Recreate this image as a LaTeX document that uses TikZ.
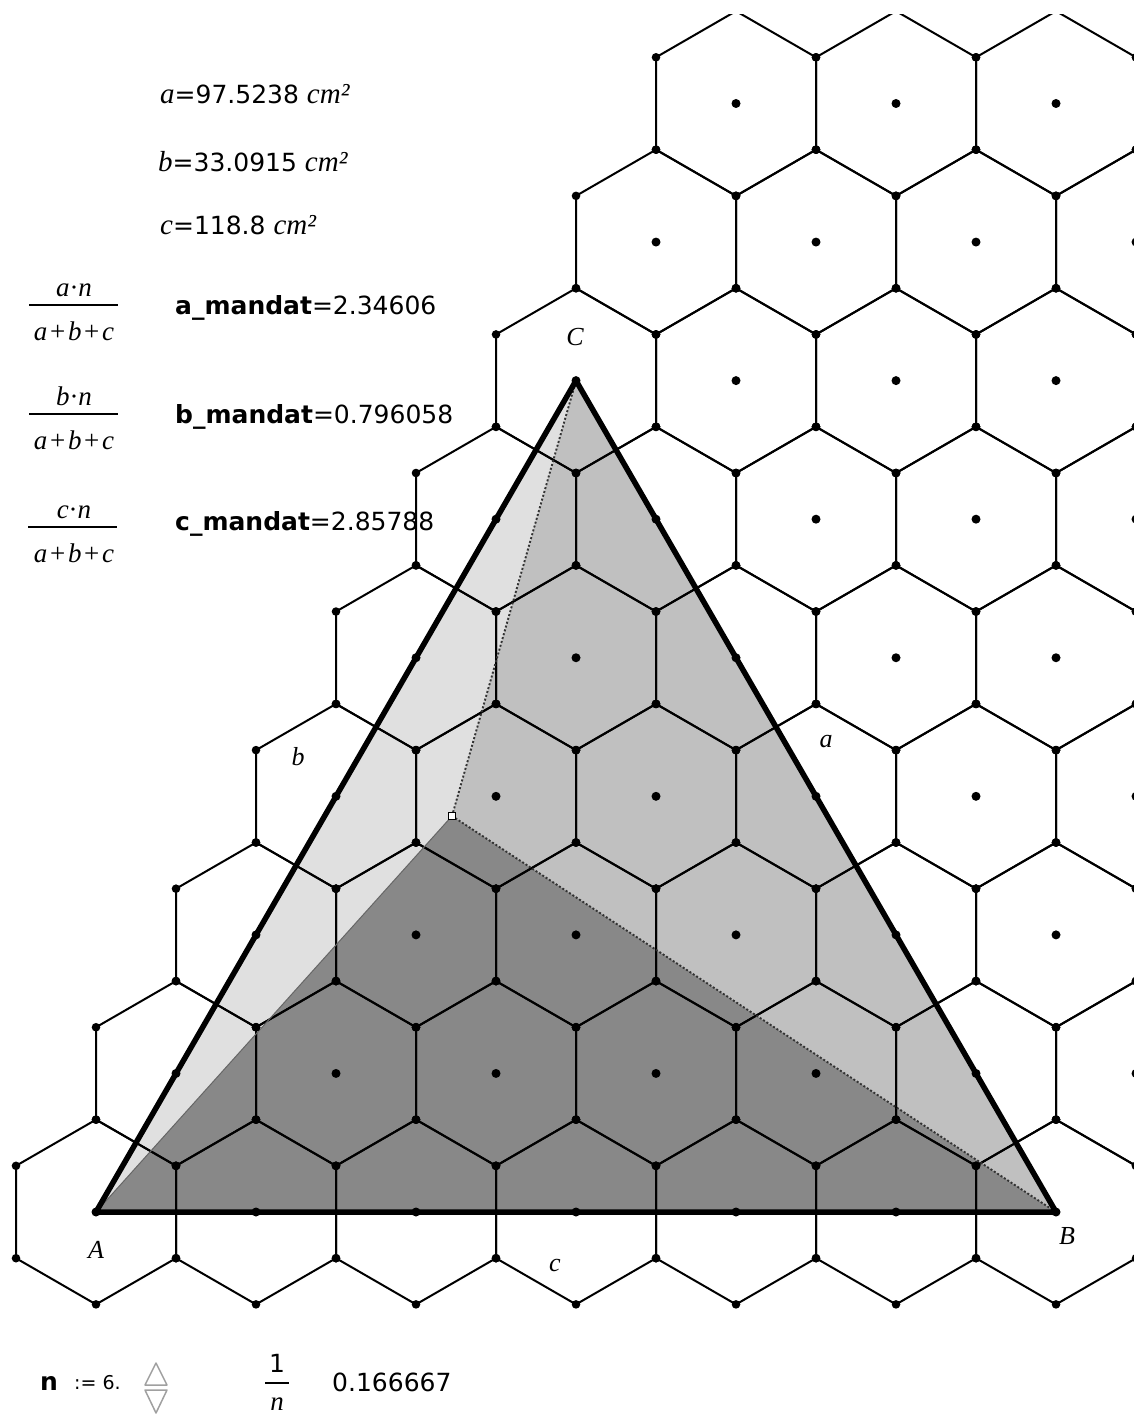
\documentclass[tikz,border=0pt]{standalone}
\usepackage{fontspec}
\newfontfamily\dv{DejaVu Sans}
\newfontfamily\lser{Liberation Serif}
\newcommand\itl[1]{{\fontsize{29}{30}\selectfont\lser\itshape #1}}
\definecolor{lightg}{RGB}{224,224,224}
\definecolor{midg}{RGB}{192,192,192}
\definecolor{darkg}{RGB}{136,136,136}
\definecolor{slidergray}{RGB}{160,160,160}
\begin{document}
\begin{tikzpicture}[x=1pt,y=-1pt,
  hexline/.style={line width=2pt,black,line join=round},
  triedge/.style={line width=5.5pt,black,line join=round},
  dotline/.style={line width=1.9pt,black!80,dash pattern=on 2pt off 2pt},
  lbl/.style={font=\fontsize{26}{30}\selectfont\lser\itshape,inner sep=0pt},
  txt/.style={font=\fontsize{25}{30}\selectfont\dv,anchor=base west,inner sep=0pt},
  frac/.style={font=\fontsize{27}{30}\selectfont\lser,anchor=base,inner sep=0pt},
  bar/.style={line width=1.5pt,black}
]
\useasboundingbox (0,0) rectangle (1134,1416);
\coordinate (A) at (96,1212);
\coordinate (B) at (1056,1212);
\coordinate (C) at (576,380.62);
\coordinate (P) at (452,816);
% fills
\fill[lightg] (A) -- (P) -- (C) -- cycle;
\fill[midg] (P) -- (B) -- (C) -- cycle;
\fill[darkg] (A) -- (P) -- (B) -- cycle;
% hex grid
\begin{scope}
\clip (0,14) rectangle (1134,1416);
\foreach \j in {0,...,8}{
  \foreach \i in {0,...,6}{
    \pgfmathsetmacro\xx{96+80*\j+160*\i}
    \pgfmathsetmacro\yy{1212-138.564*\j}
    \draw[hexline] (\xx,\yy) ++(0,-92.376) -- ++(80,46.188) -- ++(0,92.376) -- ++(-80,46.188) -- ++(-80,-46.188) -- ++(0,-92.376) -- cycle;
  }
}
\end{scope}
% partition lines
\draw[line width=1pt,black!60] (A) -- (P);
\draw[dotline] (P) -- (C);
\draw[dotline] (P) -- (B);
% triangle
\draw[triedge] (A) -- (B) -- (C) -- cycle;
% dots
\begin{scope}
\clip (0,14) rectangle (1134,1416);
\foreach \j in {0,...,8}{
  \foreach \i in {0,...,6}{
    \pgfmathsetmacro\xx{96+80*\j+160*\i}
    \pgfmathsetmacro\yy{1212-138.564*\j}
    \fill (\xx,\yy) circle (4.5);
    \foreach \dx/\dy in {0/-92.376,80/-46.188,80/46.188,0/92.376,-80/46.188,-80/-46.188}{
      \pgfmathsetmacro\vx{\xx+(\dx)}
      \pgfmathsetmacro\vy{\yy+(\dy)}
      \ifdim\vy pt>20pt \fill (\vx,\vy) circle (4.3);\fi
    }
  }
}
\end{scope}
\node[draw,fill=white,line width=1pt,minimum size=7pt,inner sep=0pt] (Pm) at (P) {};
% vertex and side labels
\node[lbl] (lA) at (96,1250) {A};
\node[lbl] (lB) at (1067,1236) {B};
\node[lbl] (lC) at (575,337) {C};
\node[lbl] (la) at (826,742) {a};
\node[lbl] (lb) at (298,757) {b};
\node[lbl] (lc) at (555,1265) {c};
% area values
\node[txt] (ta) at (160,103) {\itl{a}=97.5238 \itl{cm²}};
\node[txt] (tb) at (158,171) {\itl{b}=33.0915 \itl{cm²}};
\node[txt] (tc) at (160,234) {\itl{c}=118.8 \itl{cm²}};
% fractions
\node[frac] (fan) at (74,296) {\itshape a\upshape·\itshape n};
\draw[bar] (29,305) -- (118,305);
\node[frac] (fad) at (74,340) {\itshape a\hspace{0.1em}\upshape+\hspace{0.1em}\itshape b\hspace{0.1em}\upshape+\hspace{0.1em}\itshape c};
\node[frac] (fbn) at (74,405) {\itshape b\upshape·\itshape n};
\draw[bar] (29,414) -- (118,414);
\node[frac] (fbd) at (74,449) {\itshape a\hspace{0.1em}\upshape+\hspace{0.1em}\itshape b\hspace{0.1em}\upshape+\hspace{0.1em}\itshape c};
\node[frac] (fcn) at (74,518) {\itshape c\upshape·\itshape n};
\draw[bar] (28,527) -- (117,527);
\node[frac] (fcd) at (74,562) {\itshape a\hspace{0.1em}\upshape+\hspace{0.1em}\itshape b\hspace{0.1em}\upshape+\hspace{0.1em}\itshape c};
% mandat values
\node[txt] (ma) at (175,314) {\textbf{a\_mandat}=2.34606};
\node[txt] (mb) at (175,423) {\textbf{b\_mandat}=0.796058};
\node[txt] (mc) at (175,530) {\textbf{c\_mandat}=2.85788};
% slider
\node[txt] (nn) at (40,1390) {\textbf{n}};
\node[txt,font=\fontsize{19}{22}\selectfont\dv] (ns) at (74,1389) {:= 6.};
\draw[slidergray,line width=1.5pt,line join=round] (145,1385) -- (167,1385) -- (156,1363) -- cycle;
\draw[slidergray,line width=1.5pt,line join=round] (145,1390) -- (167,1390) -- (156,1413) -- cycle;
% 1/n
\node[txt,anchor=base] (one) at (277,1372) {1};
\draw[bar] (265,1383) -- (289,1383);
\node[frac] (nd) at (277,1410) {\itshape n};
\node[txt] (val) at (332,1391) {0.166667};
\end{tikzpicture}
\end{document}
